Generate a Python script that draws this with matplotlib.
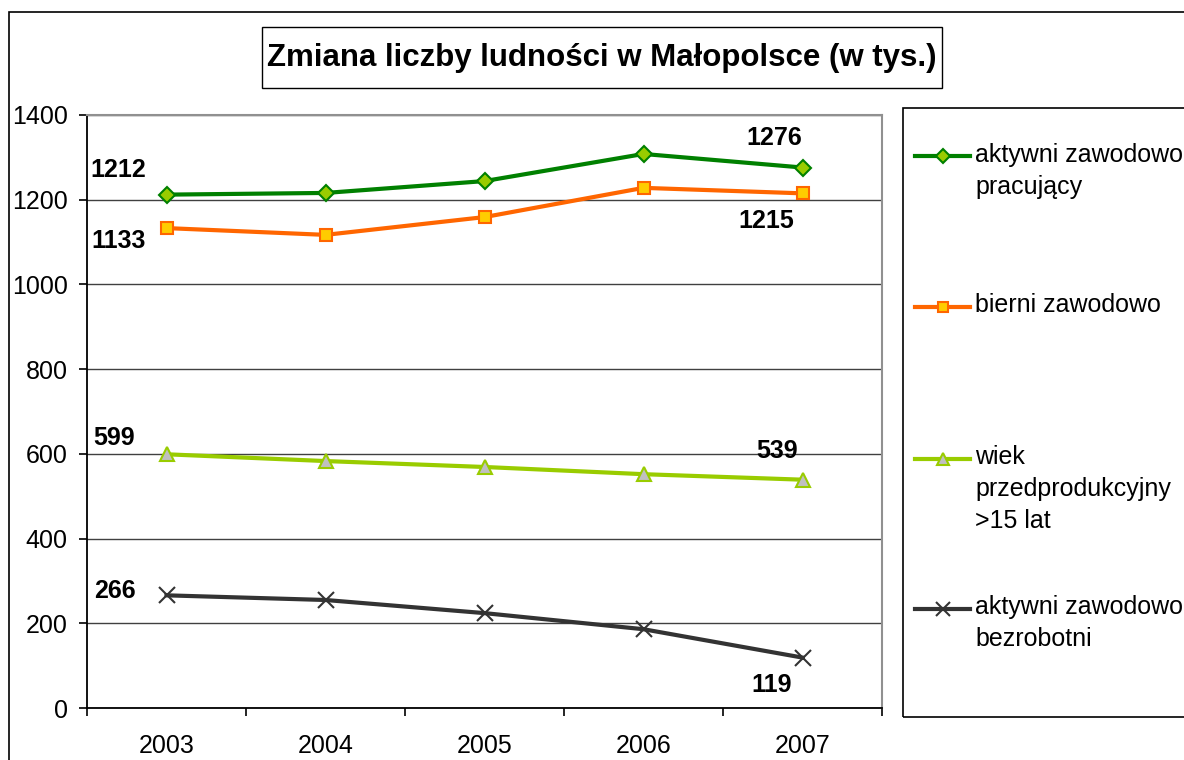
import matplotlib
matplotlib.use("Agg")
import matplotlib.pyplot as plt
from matplotlib.patches import Rectangle
from matplotlib.lines import Line2D

plt.rcParams['font.family'] = ['Liberation Sans', 'DejaVu Sans']

years = ['2003', '2004', '2005', '2006', '2007']
pracujacy = [1212, 1216, 1244, 1308, 1276]
bierni = [1133, 1117, 1159, 1228, 1215]
przedprod = [599, 583, 569, 552, 539]
bezrobotni = [266, 255, 224, 186, 119]

labels = ['aktywni zawodowo\npracujący', 'bierni zawodowo',
          'wiek\nprzedprodukcyjny\n>15 lat', 'aktywni zawodowo\nbezrobotni']

W, H = 1184, 760
fig = plt.figure(figsize=(W / 100, H / 100), dpi=100)

def px(x, y):
    return (x / W, 1 - y / H)

# outer chart frame (cut off at right and bottom)
fig.add_artist(Rectangle(px(9, 800), (1250 - 9) / W, (800 - 12) / H,
                         transform=fig.transFigure, fill=False,
                         edgecolor='black', lw=1.2))

ax = fig.add_axes([87 / W, 1 - 708 / H, (882 - 87) / W, (708 - 115) / H])
x = list(range(len(years)))

styles = [
    dict(color='#008000', marker='D', mfc='#99CC00', mec='#008000', ms=8.5, mew=1.5),
    dict(color='#FF6600', marker='s', mfc='#FFCC00', mec='#FF6600', ms=8.5, mew=1.5),
    dict(color='#99CC00', marker='^', mfc='#C0C0C0', mec='#99CC00', ms=9.5, mew=1.5),
    dict(color='#333333', marker='x', mfc='none', mec='#333333', ms=11, mew=1.5),
]
series = [pracujacy, bierni, przedprod, bezrobotni]
for s, st in zip(series, styles):
    ax.plot(x, s, lw=3, zorder=3, **st)

# data labels (first and last points)
first_off = [(-48, 25), (-48, -13), (-52, 16), (-52, 4)]
last_off = [(-28, 30), (-36, -28), (-25, 29), (-31, -27)]
for s, fo, lo in zip(series, first_off, last_off):
    ax.annotate(str(s[0]), (x[0], s[0]), xytext=fo, textcoords='offset pixels',
                ha='center', va='center', fontsize=18, fontweight='bold')
    ax.annotate(str(s[-1]), (x[-1], s[-1]), xytext=lo, textcoords='offset pixels',
                ha='center', va='center', fontsize=18, fontweight='bold')

ax.set_xlim(-0.5, len(years) - 0.5)
ax.set_ylim(0, 1400)
ax.set_yticks(range(0, 1401, 200))
ax.set_xticks(x)
ax.set_xticklabels(years)
ax.set_xticks([i - 0.5 for i in range(len(years) + 1)], minor=True)
ax.tick_params(axis='x', which='major', length=0, pad=19, labelsize=18)
ax.tick_params(axis='x', which='minor', length=6, width=1.2, direction='out')
ax.tick_params(axis='y', length=6, width=1.2, pad=8, labelsize=18)
ax.grid(axis='y', color='#404040', lw=1)
ax.set_axisbelow(True)
for side in ['top', 'right']:
    ax.spines[side].set_color('#909090')
    ax.spines[side].set_linewidth(1.5)
for side in ['left', 'bottom']:
    ax.spines[side].set_color('black')
    ax.spines[side].set_linewidth(1.3)

# title box
fig.add_artist(Rectangle(px(262, 88), (942 - 262) / W, (88 - 27) / H,
                         transform=fig.transFigure, fill=False,
                         edgecolor='black', lw=1))
fig.text(*px(602, 58), 'Zmiana liczby ludności w Małopolsce (w tys.)',
         ha='center', va='center', fontsize=22.5, fontweight='bold')

# legend box
fig.add_artist(Rectangle(px(903, 717), (1250 - 903) / W, (717 - 108) / H,
                         transform=fig.transFigure, fill=False,
                         edgecolor='black', lw=1.2))
handle_y = [156, 307, 459, 609]
base_y = [162, 312, 464, 614]
for lab, st, hy, by in zip(labels, styles, handle_y, base_y):
    (x0, y0), (x1, _) = px(915, hy), px(970, hy)
    fig.add_artist(Line2D([x0, x1], [y0, y0], transform=fig.transFigure,
                          color=st['color'], lw=3))
    fig.add_artist(Line2D([(x0 + x1) / 2], [y0], transform=fig.transFigure,
                          marker=st['marker'], mfc=st['mfc'], mec=st['mec'],
                          ms=st['ms'] - 1, mew=st['mew'], lw=0))
    for i, line in enumerate(lab.split('\n')):
        fig.text(*px(975, by + i * 32), line, ha='left', va='baseline', fontsize=18)

fig.savefig('out.png', dpi=100)
